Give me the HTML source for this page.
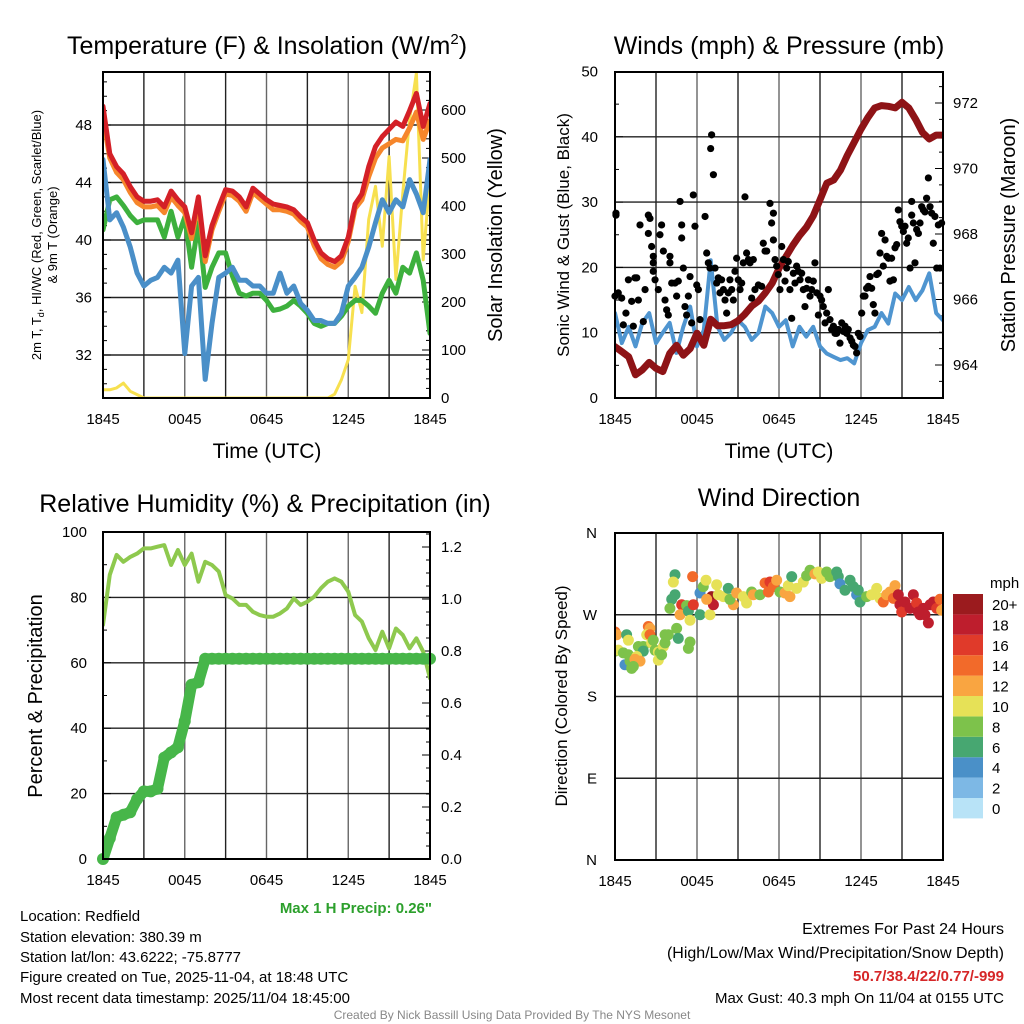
<!DOCTYPE html>
<html><head><meta charset="utf-8">
<style>
html,body{margin:0;padding:0;background:#fff;}
svg{display:block;font-family:"Liberation Sans",sans-serif;}
</style></head>
<body>
<svg id="fig" width="1024" height="1024" viewBox="0 0 1024 1024" xmlns="http://www.w3.org/2000/svg">
<rect x="0" y="0" width="1024" height="1024" fill="#fff"/>
<defs>
<clipPath id="c1"><rect x="103" y="72" width="327" height="326"/></clipPath>
<clipPath id="c2"><rect x="615" y="72" width="328" height="326"/></clipPath>
<clipPath id="c3"><rect x="103" y="532" width="327" height="327"/></clipPath>
<clipPath id="c4"><rect x="615" y="533" width="328" height="327"/></clipPath>
</defs>
<g id="g1"></g>
<g id="g2"></g>
<g id="g3"></g>
<g id="g4"></g>

<text x="267" y="54" font-size="25" text-anchor="middle">Temperature (F) &amp; Insolation (W/m<tspan font-size="15" dy="-10">2</tspan><tspan dy="10">)</tspan></text>
<text x="779" y="54" font-size="25" text-anchor="middle">Winds (mph) &amp; Pressure (mb)</text>
<text x="265" y="512" font-size="25" text-anchor="middle">Relative Humidity (%) &amp; Precipitation (in)</text>
<text x="779" y="506" font-size="25" text-anchor="middle">Wind Direction</text>

<text transform="translate(41,235) rotate(-90)" font-size="13" text-anchor="middle">2m T, T<tspan font-size="9" dy="3">d</tspan><tspan dy="-3">, HI/WC (Red, Green, Scarlet/Blue)</tspan></text>
<text transform="translate(57,235) rotate(-90)" font-size="13" text-anchor="middle">&amp; 9m T (Orange)</text>
<text transform="translate(502,235) rotate(-90)" font-size="20" text-anchor="middle">Solar Insolation (Yellow)</text>
<text x="267" y="458" font-size="21" text-anchor="middle">Time (UTC)</text>

<text transform="translate(569,235) rotate(-90)" font-size="17" text-anchor="middle">Sonic Wind &amp; Gust (Blue, Black)</text>
<text transform="translate(1015,235) rotate(-90)" font-size="20" text-anchor="middle">Station Pressure (Maroon)</text>
<text x="779" y="458" font-size="21" text-anchor="middle">Time (UTC)</text>

<text transform="translate(42,696) rotate(-90)" font-size="20" text-anchor="middle">Percent &amp; Precipitation</text>
<text x="432" y="913" font-size="15" font-weight="bold" fill="#2ca02c" text-anchor="end">Max 1 H Precip: 0.26"</text>

<text transform="translate(567,696) rotate(-90)" font-size="17" text-anchor="middle">Direction (Colored By Speed)</text>

<g font-size="15">
<text x="20" y="921">Location: Redfield</text>
<text x="20" y="942">Station elevation: 380.39 m</text>
<text x="20" y="962">Station lat/lon: 43.6222; -75.8777</text>
<text x="20" y="982">Figure created on Tue, 2025-11-04, at 18:48 UTC</text>
<text x="20" y="1003">Most recent data timestamp: 2025/11/04 18:45:00</text>
</g>
<g font-size="15" text-anchor="end">
<text x="1004" y="934" font-size="16">Extremes For Past 24 Hours</text>
<text x="1004" y="958" font-size="16">(High/Low/Max Wind/Precipitation/Snow Depth)</text>
<text x="1004" y="981" font-size="15" font-weight="bold" fill="#d62728">50.7/38.4/22/0.77/-999</text>
<text x="1004" y="1003">Max Gust: 40.3 mph On 11/04 at 0155 UTC</text>
</g>
<text x="512" y="1019" font-size="12" fill="#888" text-anchor="middle">Created By Nick Bassill Using Data Provided By The NYS Mesonet</text>
</svg>
<script>
// ---- Data (half-hourly from 1845 UTC, 49 points) ----
const timeTickLabels = ["1845","0045","0645","1245","1845"];
const tempRed = [49.3,46.0,45.1,44.6,43.7,43.0,42.7,42.7,42.8,42.3,43.4,42.8,42.3,40.5,43.0,38.9,41.0,42.3,43.5,43.4,43.0,42.3,43.6,43.2,42.8,42.5,42.4,42.3,42.1,41.6,41.2,40.0,39.1,38.7,38.5,38.9,40.2,42.5,43.2,45.1,46.5,47.2,47.7,48.2,47.9,49.0,50.2,47.9,49.5];
const tempOrange = [48.5,45.7,44.7,44.2,43.3,42.6,42.3,42.3,42.4,41.9,43.0,42.4,41.9,40.1,42.6,38.5,40.7,42.0,43.2,43.1,42.7,42.0,43.3,42.9,42.5,42.1,42.1,42.0,41.8,41.3,40.9,39.6,38.7,38.3,38.1,38.5,39.9,42.2,42.8,44.4,45.7,46.4,46.7,47.0,46.9,47.8,48.9,47.0,48.3];
const tempGreen = [40.7,42.8,43.0,42.4,41.7,41.2,41.4,41.4,41.4,40.2,42.0,40.2,41.6,38.1,41.2,36.7,38.1,39.1,39.1,37.5,36.3,36.1,36.3,36.3,35.8,35.1,35.2,35.4,35.8,35.4,34.9,34.2,34.0,34.2,34.2,34.7,35.4,35.8,35.8,35.4,34.9,36.3,37.2,36.3,38.1,37.7,39.1,37.2,33.5];
const tempBlue = [45.6,41.4,41.9,40.9,39.5,37.7,36.8,37.2,37.4,38.1,37.7,38.6,32.1,36.8,37.4,30.3,34.2,37.4,37.7,38.1,37.2,37.2,36.8,36.8,36.3,36.3,37.7,36.3,36.8,35.6,35.1,34.4,34.4,34.2,34.2,34.9,36.8,37.4,38.1,39.5,41.2,42.8,41.9,42.8,42.3,44.2,43.2,41.9,45.6];
const solar = [17,17,21,31,14,7,0,0,0,0,0,0,0,0,0,0,0,0,0,0,0,0,0,0,0,0,0,0,0,0,0,0,0,0,8,38,80,233,178,372,441,316,503,247,427,580,677,288,462];
const tempTicks = [32,36,40,44,48];
const solarTicks = [0,100,200,300,400,500,600];

const windSpeed = [13.0,8.4,10.9,7.9,11.5,13.0,8.4,10.0,11.5,6.9,10.9,14.0,7.9,10.4,21.1,10.9,8.9,10.0,11.9,10.9,8.9,10.0,14.0,13.0,10.9,11.9,7.9,10.9,9.4,10.9,7.9,6.8,6.3,5.8,6.1,5.3,8.4,10.4,10.9,13.0,11.4,16.0,15.0,17.0,15.0,16.5,19.1,13.0,11.9];
const pressure = [964.56,964.41,964.25,963.7,963.85,964.08,963.9,963.8,964.35,964.6,964.3,964.5,964.97,964.6,965.4,965.2,965.2,965.23,965.35,965.55,965.8,965.95,966.2,966.5,966.95,967.3,967.65,967.95,968.2,968.55,969.04,969.55,969.65,969.95,970.4,970.8,971.2,971.55,971.85,971.92,971.9,971.85,972.02,971.85,971.5,971.1,970.9,971.02,971.02];
const gustHours = [0.07,0.07,0,0.24,0.49,0.61,0.80,0.98,1.22,1.34,1.46,1.59,1.71,1.83,2.07,2.20,2.44,2.56,2.44,2.68,2.80,2.80,2.80,2.93,3.17,3.29,3.41,3.54,3.66,3.78,3.90,4.02,4.02,4.15,4.39,4.51,4.63,4.76,4.88,4.88,5.0,5.12,5.24,5.37,5.49,5.61,5.73,5.85,5.98,6.10,6.22,6.59,6.71,6.83,6.95,7.07,7.0,7.2,7.32,7.44,7.56,7.68,7.80,7.93,8.05,8.17,8.29,8.41,8.54,8.66,8.78,8.90,9.02,9.15,9.27,9.39,9.51,9.63,9.76,9.88,10.0,10.12,10.24,10.49,10.73,10.85,10.98,11.10,11.34,11.46,11.59,11.59,11.71,11.83,11.95,12.07,12.20,12.32,12.44,12.56,12.68,12.80,12.93,13.05,13.17,13.29,13.41,13.54,13.66,13.78,13.90,14.02,14.15,14.27,14.39,14.51,14.63,14.76,14.88,15.0,15.12,15.24,15.37,15.49,15.61,15.73,15.85,15.98,16.10,16.22,16.34,16.46,16.59,16.71,16.83,16.95,17.07,17.20,17.32,17.44,17.56,17.68,17.80,17.93,18.05,18.17,18.29,18.41,18.54,18.66,18.78,18.90,19.02,19.15,19.27,19.39,19.51,19.63,19.76,19.88,20.0,20.12,20.24,20.37,20.49,20.61,20.73,20.85,20.98,21.10,21.22,21.34,21.46,21.59,21.71,21.71,21.83,21.95,22.07,22.20,22.32,22.44,22.56,22.68,22.80,22.93,23.05,23.17,23.29,23.41,23.54,23.66,23.78,23.90];
const gustMph = [28.0,28.3,15.6,16.1,15.3,11.2,13.0,18.1,14.8,11.0,18.4,18.4,15.0,26.5,11.7,16.6,28.0,27.5,25.2,23.2,21.7,20.7,19.4,18.1,16.6,25.0,26.5,22.5,15.0,13.5,12.7,21.7,20.7,17.6,17.6,15.6,17.9,30.1,26.5,24.5,19.9,14.0,12.7,15.6,18.6,11.5,31.1,26.3,17.3,16.6,12.0,27.8,22.2,20.7,19.9,40.3,38.2,34.2,19.9,17.6,18.4,16.1,18.1,16.6,15.0,13.0,16.1,18.1,16.6,15.0,19.4,21.4,18.1,16.6,17.6,20.7,30.8,22.2,21.2,20.7,15.3,21.2,16.6,17.3,17.1,23.7,22.5,22.5,29.8,26.8,28.3,24.2,21.2,20.2,18.9,16.6,23.2,21.2,17.9,19.9,20.9,16.6,12.2,19.1,17.6,20.2,19.4,18.1,19.1,16.6,14.0,16.8,18.1,15.6,16.6,17.9,20.7,16.1,12.7,15.6,15.0,14.0,11.5,13.0,16.6,12.0,10.5,11.0,9.9,9.9,10.5,8.4,11.5,10.2,11.0,9.9,10.5,9.2,8.7,8.1,7.9,6.9,9.9,9.4,13.0,15.6,15.6,16.8,17.1,18.6,16.8,14.3,13.0,18.9,19.1,22.2,25.2,20.2,24.2,21.7,21.4,17.9,21.4,18.1,23.0,23.5,28.8,27.0,26.3,25.5,26.3,23.7,24.5,19.9,28.0,30.1,26.8,20.7,25.8,25.2,26.8,29.3,28.8,28.5,30.6,33.7,29.3,28.3,23.7,27.8,19.9,26.5,19.9,26.8];
const windTicks = [0,10,20,30,40,50];
const pressureTicks = [964,966,968,970,972];

const rh = [71.6,86.9,93.0,90.9,92.4,93.4,95.0,95.0,95.5,96.0,89.9,94.5,89.9,93.4,84.8,90.9,89.9,87.9,80.7,79.7,77.7,77.7,75.6,74.6,74.1,74.1,75.1,76.6,79.7,77.7,78.7,80.2,82.8,84.8,85.8,84.8,81.7,74.6,72.6,67.5,63.9,69.5,64.4,70.5,68.5,64.4,67.5,63.4,55.3];
const precip = [0,0.08,0.16,0.17,0.18,0.23,0.26,0.26,0.27,0.39,0.41,0.43,0.53,0.67,0.68,0.77,0.77,0.77,0.77,0.77,0.77,0.77,0.77,0.77,0.77,0.77,0.77,0.77,0.77,0.77,0.77,0.77,0.77,0.77,0.77,0.77,0.77,0.77,0.77,0.77,0.77,0.77,0.77,0.77,0.77,0.77,0.77,0.77,0.77];
const rhTicks = [0,20,40,60,80,100];
const precipTicks = [0,0.2,0.4,0.6,0.8,1.0,1.2];

const dirHours = [0,0.12,0.85,0.98,0,0.24,0.61,0.98,1.71,2.07,2.07,1.59,0.73,1.1,1.46,1.83,1.22,1.34,2.44,2.56,2.32,2.56,2.68,2.8,2.93,3.17,3.29,3.54,3.66,3.9,4.51,4.63,5.49,5.37,3.17,3.41,3.66,4.39,4.27,4.39,4.15,4.02,4.88,4.76,5.24,5.37,5.73,5.49,5.68,6.22,6.46,6.66,6.22,6.95,7.07,7.2,6.71,7.44,7.56,7.93,8.29,8.66,8.41,8.9,9.39,9.63,10.0,10.12,10.61,10.98,11.34,11.59,11.83,11.22,12.07,12.44,12.68,12.8,12.93,13.29,13.78,14.02,14.27,14.63,14.88,15.12,15.49,15.73,16.22,16.34,16.46,16.83,17.2,17.44,17.68,17.8,17.93,18.41,18.78,19.15,19.39,19.63,19.88,20.12,20.49,20.37,20.73,20.85,20.98,21.22,21.59,21.83,22.07,22.32,22.56,22.93,23.05,23.29,23.54,23.78,23.9,22.68,22.2];
const dirDeg = [251,248,248,242,230,231,228,226,235,235,230,224,215,219,221,219,211,213,257,255,248,248,239,242,231,229,228,235,248,248,255,244,240,233,220,226,239,314,306,292,287,277,281,270,280,274,281,264,312,294,301,308,270,270,290,281,287,303,292,290,299,281,287,294,290,283,295,292,292,305,306,301,308,295,295,294,302,290,312,299,306,313,319,315,317,310,317,312,317,312,304,297,308,301,292,297,284,290,292,299,288,284,292,295,302,288,292,281,273,284,277,292,283,270,277,261,281,284,277,287,275,270,273];
const dirSpeed = [14,12,6,10,8,10,8,8,8,8,6,10,4,8,12,12,8,8,14,12,10,14,10,8,8,10,8,10,8,8,8,6,8,8,10,8,8,6,10,6,6,8,16,12,8,6,16,10,14,4,8,10,6,10,20,18,12,10,10,10,6,12,8,12,10,10,8,12,8,14,16,14,12,14,8,12,10,12,6,10,10,8,8,12,10,10,8,8,6,6,4,6,6,6,4,6,6,8,10,10,10,14,12,12,12,14,18,18,16,18,18,18,16,18,18,18,18,18,16,14,12,18,18];
const dirTickLabels = ["N","E","S","W","N"];
const speedLevels = ["0","2","4","6","8","10","12","14","16","18","20+"];
const speedColors = ["#b8e3f7","#7db8e5","#4a90c8","#47a771","#7dc24b","#e6e157","#f9a541","#f26a2a","#e03a2a","#be1e2d","#9b1b1e"];

// ---- scales ----
const NS = "http://www.w3.org/2000/svg";
function el(parent, tag, attrs){ const e=document.createElementNS(NS,tag); for(const k in attrs) e.setAttribute(k,attrs[k]); parent.appendChild(e); return e; }
const halfHours = tempRed.map((_,i)=>i*0.5);
const X1 = h => 103 + h/24*327;
const YT = t => 125 + (48-t)*57.5/4;
const YS = w => 398 - w*0.48;
const X2 = h => 615 + h/24*328;
const YW = m => 398 - m*6.53;
const YP = p => 365 - (p-964)*32.75;
const YR = r => 859 - r*3.27;
const YPr = p => 859 - p*260;
const YD = d => 860 - d/360*327;

function frame(g, x0,y0,x1,y1, X){
  for(let k=1;k<8;k++){ const x=X(k*3);
    const l=el(g,'line',{x1:x,y1:y0,x2:x,y2:y1,stroke:(k%2? '#222':'#666'),'stroke-width':1.4});
    
    
  }
  timeTickLabels.forEach((lab,i)=>{
    const t=el(g,'text',{x:X(i*6),y:y1+26,'font-size':15,'text-anchor':'middle'}); t.textContent=lab;
    
    
  });
}
function box(g,x0,y0,x1,y1){
  const r=el(g,'rect',{x:x0,y:y0,width:x1-x0,height:y1-y0,fill:'none',stroke:'#000','stroke-width':2});
  
  
}
function hline(g,x0,x1,y){
  const l=el(g,'line',{x1:x0,y1:y,x2:x1,y2:y,stroke:'#222','stroke-width':1.4});
  
  
}
function ylabel(g,x,y,txt,anchor){
  const t=el(g,'text',{x:x,y:y+5,'font-size':15,'text-anchor':anchor}); t.textContent=txt;
  
  
}
function tick(g,x,y,len){ el(g,'line',{x1:x,y1:y,x2:x+len,y2:y,stroke:'#000','stroke-width':1}); }
function poly(g,xs,ys,color,w,clip,name){
  const pts=xs.map((x,i)=>x.toFixed(1)+','+ys[i].toFixed(1)).join(' ');
  const p=el(g,'polyline',{points:pts,fill:'none',stroke:color,'stroke-width':w,'stroke-linejoin':'round','stroke-linecap':'round','clip-path':'url(#'+clip+')'});
  
  
}

// ---- Panel 1 ----
const g1=document.getElementById('g1');
frame(g1,103,72,430,398,X1);
tempTicks.forEach(t=>{ hline(g1,103,430,YT(t)); ylabel(g1,92,YT(t),String(t),'end'); });
for(let t=30;t<=51;t++) tick(g1,103,YT(t),t%4===0?8:4);
solarTicks.forEach(w=>{ ylabel(g1,441,YS(w),String(w),'start'); });
for(let w=0;w<=680;w+=20) tick(g1,430,YS(w),w%100===0?-8:-4);
poly(g1,halfHours.map(X1),solar.map(YS),'#f7e04f',3,'c1','solar-insolation-line');
poly(g1,halfHours.map(X1),tempGreen.map(YT),'#3db03d',5,'c1','dewpoint-line');
poly(g1,halfHours.map(X1),tempBlue.map(YT),'#4a8fc8',5,'c1','windchill-line');
poly(g1,halfHours.map(X1),tempOrange.map(YT),'#f6862b',5,'c1','temperature-9m-line');
poly(g1,halfHours.map(X1),tempRed.map(YT),'#d42027',5,'c1','temperature-2m-line');
box(g1,103,72,430,398);

// ---- Panel 2 ----
const g2=document.getElementById('g2');
frame(g2,615,72,943,398,X2);
windTicks.forEach(m=>{ if(m>0&&m<50) hline(g2,615,943,YW(m)); ylabel(g2,598,YW(m),String(m),'end'); });
for(let m=0;m<=50;m+=5) tick(g2,615,YW(m),m%10===0?8:4);
pressureTicks.forEach(p=>{ ylabel(g2,953,YP(p),String(p),'start'); });
for(let p=963.5;p<=972.9;p+=0.5) tick(g2,943,YP(p),(p%2===0)?-8:-4);
poly(g2,halfHours.map(X2),windSpeed.map(YW),'#4f95d0',4,'c2','sonic-wind-line');
poly(g2,halfHours.map(X2),pressure.map(YP),'#8e1316',7,'c2','pressure-line');
gustHours.forEach((h,i)=>{
  const c=el(g2,'circle',{cx:X2(h),cy:YW(gustMph[i]),r:3.6,fill:'#000'});
  
  
});
box(g2,615,72,943,398);

// ---- Panel 3 ----
const g3=document.getElementById('g3');
frame(g3,103,532,430,859,X1);
rhTicks.forEach(r=>{ if(r>0&&r<100) hline(g3,103,430,YR(r)); ylabel(g3,87,YR(r),String(r),'end'); });
for(let r=0;r<=100;r+=10) tick(g3,103,YR(r),r%20===0?8:4);
precipTicks.forEach(p=>{ ylabel(g3,441,YPr(p),p.toFixed(1),'start'); });
for(let k=0;k<=25;k++) tick(g3,430,YPr(k*0.05),k%4===0?-8:-4);
poly(g3,halfHours.map(X1),rh.map(YR),'#8ec94e',4,'c3','relative-humidity-line');
poly(g3,halfHours.map(X1),precip.map(YPr),'#47b649',11,'c3','precipitation-line');
halfHours.forEach((h,i)=>{
  const c=el(g3,'circle',{cx:X1(h),cy:YPr(precip[i]),r:6,fill:'#47b649'});
  
  
});
box(g3,103,532,430,859);

// ---- Panel 4 ----
const g4=document.getElementById('g4');
frame(g4,615,533,943,860,X2);
dirTickLabels.forEach((lab,i)=>{ const d=i*90; if(d>0&&d<360) hline(g4,615,943,YD(d)); ylabel(g4,597,YD(d),lab,'end'); });
dirHours.forEach((h,i)=>{
  const lvl=Math.min(10,Math.max(0,Math.round(dirSpeed[i]/2)));
  const c=el(g4,'circle',{cx:X2(h),cy:YD(dirDeg[i]),r:5.5,fill:speedColors[lvl],'clip-path':'url(#c4)'});
  
  
});
box(g4,615,533,943,860);
// colorbar
const cb=el(g4,'g',{});


const mt=el(cb,'text',{x:990,y:588,'font-size':15}); mt.textContent='mph';


speedLevels.forEach((lab,i)=>{
  const y=798-i*20.4;
  const r=el(cb,'rect',{x:953,y:y,width:30,height:20.4,fill:speedColors[i]});
  
  
  const t=el(cb,'text',{x:992,y:y+16,'font-size':15}); t.textContent=lab;
  
  
});
</script>
</body></html>
